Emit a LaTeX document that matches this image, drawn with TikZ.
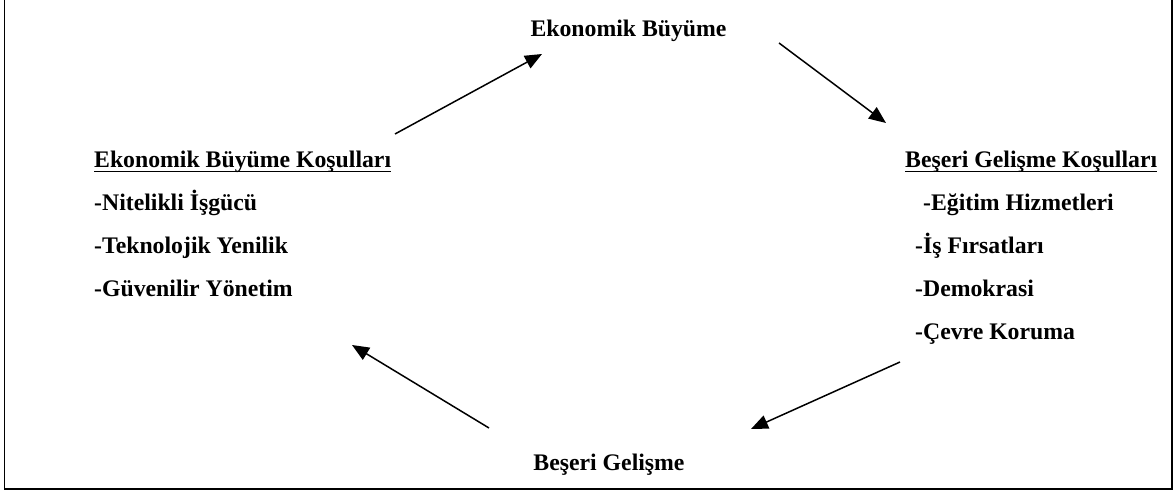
\documentclass[tikz,border=0pt]{standalone}
\usepackage{fontspec}
\setmainfont{Liberation Serif}
\usetikzlibrary{arrows.meta}
\begin{document}
\begin{tikzpicture}[x=1pt,y=-1pt,
  lbl/.style={inner sep=0pt,font=\fontsize{23.75}{28}\selectfont\bfseries},
  conn/.style={line width=1.5pt,-{Triangle[length=17pt,width=14pt]}},
  uline/.style={line width=1.6pt},
  frame/.style={line width=1.7pt}]
\useasboundingbox (0,0) rectangle (1176,494);
\draw[frame] (4.5,0) -- (4.5,489) -- (1172,489) -- (1172,0);
% titles
\node[lbl,anchor=base] (eb) at (628.5,37) {Ekonomik Büyüme};
\node[lbl,anchor=base] (bg) at (609,470) {Beşeri Gelişme};
% left block
\node[lbl,anchor=base west] (ebk) at (94,168) {Ekonomik Büyüme Koşulları};
\node[lbl,anchor=base west] (l1) at (94,211) {-Nitelikli İşgücü};
\node[lbl,anchor=base west] (l2) at (94,254) {-Teknolojik Yenilik};
\node[lbl,anchor=base west] (l3) at (94,297) {-Güvenilir Yönetim};
\draw[uline] ([yshift=-3.5pt]ebk.base west) -- ([yshift=-3.5pt]ebk.base east);
% right block
\node[lbl,anchor=base west] (bgk) at (905,168) {Beşeri Gelişme Koşulları};
\node[lbl,anchor=base west] (r1) at (923,211) {-Eğitim Hizmetleri};
\node[lbl,anchor=base west] (r2) at (915,254) {-İş Fırsatları};
\node[lbl,anchor=base west] (r3) at (915,297) {-Demokrasi};
\node[lbl,anchor=base west] (r4) at (915,340) {-Çevre Koruma};
\draw[uline] ([yshift=-3.5pt]bgk.base west) -- ([yshift=-3.5pt]bgk.base east);
% arrow ends
\coordinate (a1s) at (395,134);
\coordinate (a1e) at (542,54);
\coordinate (a2s) at (779,43);
\coordinate (a2e) at (886,123);
\coordinate (a3s) at (900,362);
\coordinate (a3e) at (751,429);
\coordinate (a4s) at (489,428);
\coordinate (a4e) at (352,345);
\draw[conn] (a1s) -- (a1e);
\draw[conn] (a2s) -- (a2e);
\draw[conn] (a3s) -- (a3e);
\draw[conn] (a4s) -- (a4e);
\end{tikzpicture}
\end{document}
